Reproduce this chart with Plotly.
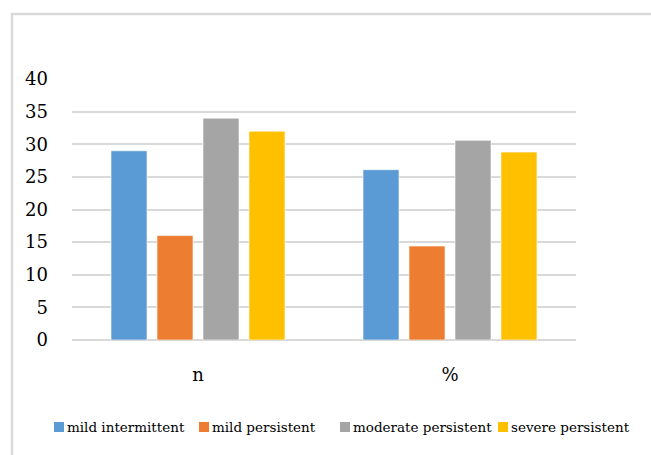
import plotly.graph_objects as go

# Asthma severity distribution: counts (n) and share of patients (%)
categories = ["n", "%"]
series_names = ["mild intermittent", "mild persistent", "moderate persistent", "severe persistent"]
counts = [29, 16, 34, 32]
percents = [26.1, 14.4, 30.6, 28.8]
y_ticks = [0, 5, 10, 15, 20, 25, 30, 35, 40]

colors = ["#5B9BD5", "#ED7D31", "#A5A5A5", "#FFC000"]
FONT = "DejaVu Serif"

W, H = 651, 455
M_L, M_R, M_T, M_B = 72, 75, 79, 115
PW = W - M_L - M_R
PH = H - M_T - M_B


def px(x):
    """Page pixel x -> paper coordinate."""
    return (x - M_L) / PW


def py(y):
    """Page pixel y (from top) -> paper coordinate."""
    return (H - M_B - y) / PH


fig = go.Figure()
for name, c, n_val, p_val in zip(series_names, colors, counts, percents):
    fig.add_trace(go.Bar(
        name=name,
        x=categories,
        y=[n_val, p_val],
        marker=dict(color=c, line=dict(color="rgba(255,255,255,0.6)", width=1)),
        showlegend=False,
    ))

# Outer chart frame (only left/top edges fall inside the page)
fig.add_shape(type="rect", xref="paper", yref="paper",
              x0=px(12), x1=px(W + 10), y0=py(H + 10), y1=py(14),
              line=dict(color="#d9d9d9", width=2.5), fillcolor="rgba(0,0,0,0)",
              layer="below")

# Legend row: colour squares followed by series names
legend_x = [54, 199, 340, 498]
sq = 10
for lx, name, c in zip(legend_x, series_names, colors):
    fig.add_shape(type="rect", xref="paper", yref="paper",
                  x0=px(lx), x1=px(lx + sq), y0=py(432), y1=py(422),
                  line=dict(width=0), fillcolor=c)
    fig.add_annotation(xref="paper", yref="paper", x=px(lx + sq + 1), y=py(427),
                       text=name, showarrow=False, xanchor="left", yanchor="middle",
                       font=dict(family=FONT, size=13.5, color="#000000"))

fig.update_layout(
    width=W, height=H,
    margin=dict(l=M_L, r=M_R, t=M_T, b=M_B),
    paper_bgcolor="white", plot_bgcolor="white",
    barmode="group", bargap=0.27, bargroupgap=0.217,
    font=dict(family=FONT, size=18, color="#000000"),
)
fig.update_xaxes(
    showgrid=False, showline=False, zeroline=False,
    ticks="outside", ticklen=18, tickcolor="rgba(0,0,0,0)",
    tickfont=dict(family=FONT, size=18, color="#000000"),
)
fig.update_yaxes(
    range=[0, 40], tickvals=y_ticks,
    showgrid=True, gridcolor="#d9d9d9", gridwidth=1.5,
    zeroline=True, zerolinecolor="#d9d9d9", zerolinewidth=2,
    showline=False, ticklabelstandoff=23,
    tickfont=dict(family=FONT, size=18, color="#000000"),
)

fig.write_html("out.html")
